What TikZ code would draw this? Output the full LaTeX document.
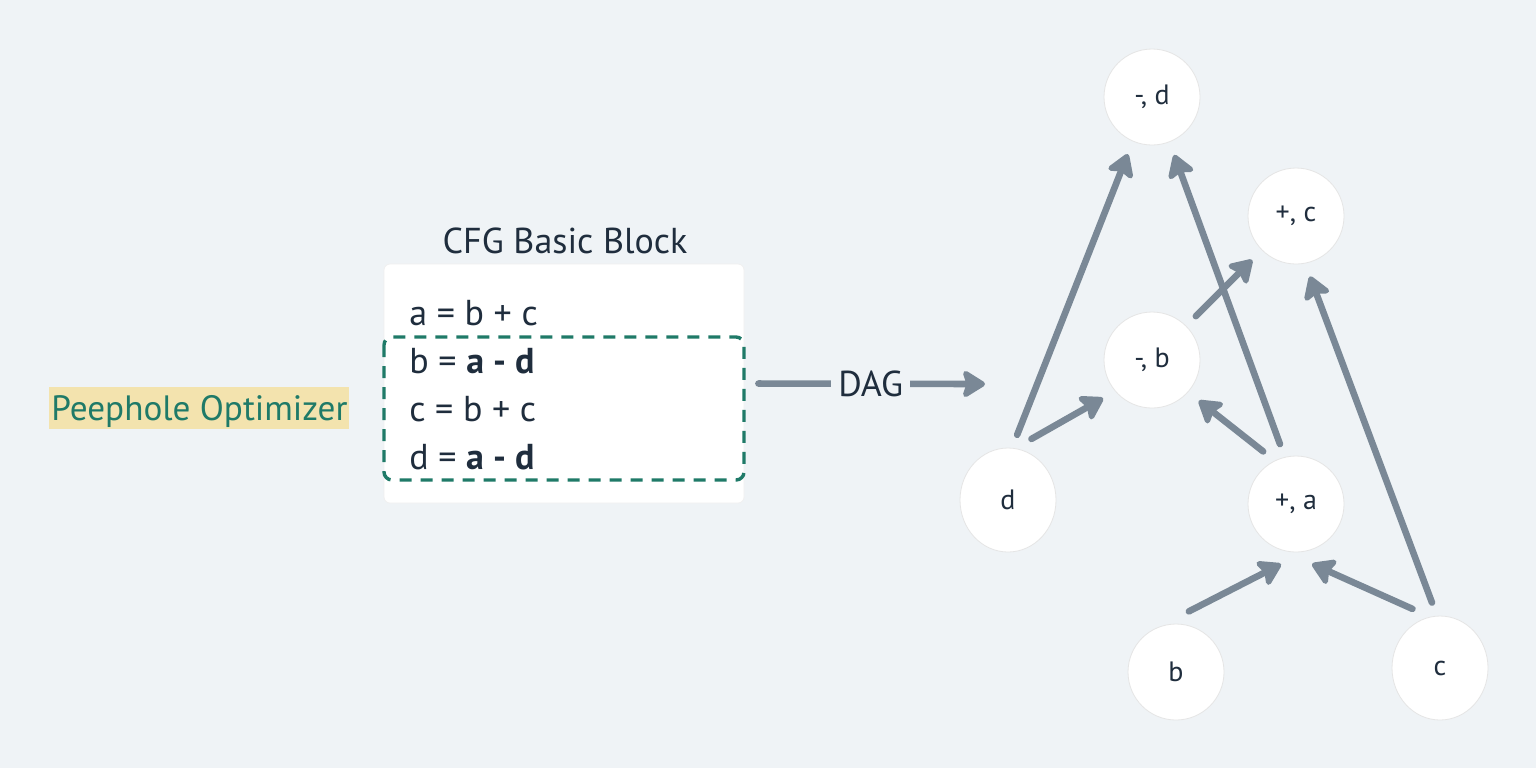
\documentclass[tikz,border=0pt]{standalone}
\usepackage{fontspec}
\setmainfont{PT Sans}
\usetikzlibrary{arrows.meta,shapes.geometric}
\definecolor{bgcol}{HTML}{EFF3F6}
\definecolor{edgecol}{HTML}{7A8896}
\definecolor{inkcol}{HTML}{1F2D3D}
\definecolor{grncol}{HTML}{1F7A68}
\definecolor{hlcol}{HTML}{F3E3AE}
\tikzset{
  dagnode/.style={circle, fill=white, draw=black!10, line width=0.4pt,
    minimum size=48pt, inner sep=0pt, outer sep=7pt,
    font=\fontsize{14}{16}\selectfont, text=inkcol},
  wide/.style={ellipse, minimum width=48pt, minimum height=52pt},
  dagedge/.style={draw=edgecol, line width=3.3pt, line cap=round,
    -{Stealth[length=13pt,width=16pt,inset=2.5pt,round]}},
  codeline/.style={anchor=base west, inner sep=0pt, text=inkcol,
    font=\fontsize{18}{20}\selectfont},
}
\begin{document}
\begin{tikzpicture}[x=0.5pt, y=-0.5pt]
  \fill[bgcol] (0,0) rectangle (1536,768);
  \useasboundingbox (0,0) rectangle (1536,768);
  % left: label and basic block
  \node[fill=hlcol, text=grncol, anchor=base west, inner xsep=1pt, inner ysep=0pt,
    text height=16.5pt, text depth=4.5pt, font=\fontsize{17.6}{20}\selectfont]
    (peep) at (49,420) {Peephole Optimizer};
  \node[fill=white, draw=black!6, line width=0.4pt, rounded corners=3pt,
    minimum width=180pt, minimum height=119.5pt] (blk) at (564,383.5) {};
  \node[codeline, anchor=base] (ttl) at (565,253) {CFG Basic Block};
  \node[codeline] (la) at (409,325) {a = b + c};
  \node[codeline] (lb) at (409,373) {b = \textbf{a - d}};
  \node[codeline] (lc) at (409,421) {c = b + c};
  \node[codeline] (ld) at (409,469) {d = \textbf{a - d}};
  \draw[grncol, line width=1.7pt, dash pattern=on 6pt off 4.5pt, rounded corners=4pt]
    (384,337) rectangle (744,480);
  \coordinate (dagout) at (985,384);
  \draw[dagedge, shorten <=7pt] (blk.east) -- node[fill=bgcol, inner xsep=3.5pt,
    text=inkcol, font=\fontsize{18}{20}\selectfont, xshift=3pt] (dag) {DAG} (dagout);
  % right: the DAG
  \draw
    (1152,97) node[dagnode] (md){-, d}
    (1296,216) node[dagnode] (pc){+, c}
    (1152,360) node[dagnode] (mb){-, b}
    (1008,500) node[dagnode, wide] (d){d}
    (1296,504) node[dagnode] (pa){+, a}
    (1176,672) node[dagnode] (b){b}
    (1440,668) node[dagnode, wide] (c){c};
  \begin{scope}[dagedge]
    \draw (d.82) to (md.247);
    \draw (d.69) to (mb.218);
    \draw (pa.105) to (md.291);
    \draw (pa.122) to (mb.319);
    \draw (mb.45) to (pc.225);
    \draw (c.97) to (pc.283);
    \draw (b.78) to (pa.256);
    \draw (c.115) to (pa.285);
  \end{scope}
\end{tikzpicture}
\end{document}
